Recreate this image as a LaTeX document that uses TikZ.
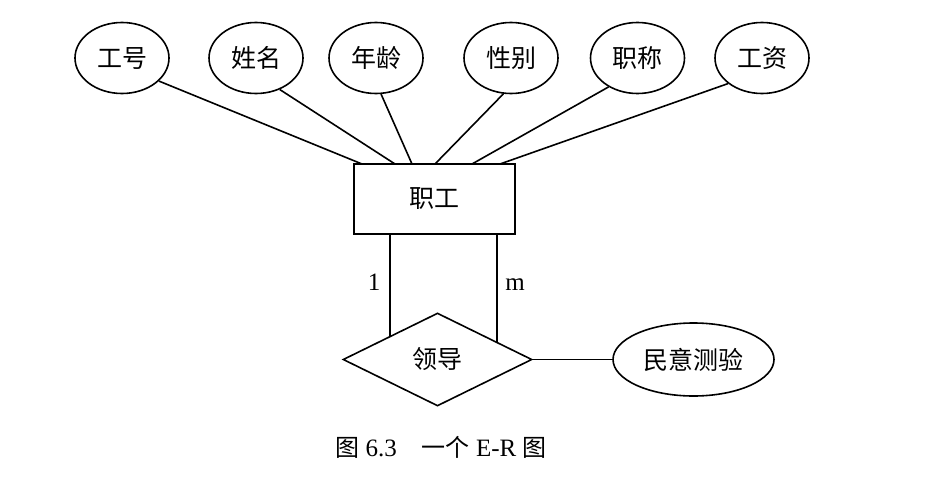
\documentclass[tikz,border=0pt]{standalone}
\usepackage{fontspec}
\setmainfont{Liberation Serif}
\newfontfamily\cjk{Noto Sans CJK SC}
\usetikzlibrary{shapes.geometric}
\tikzset{
  ln/.style={line width=1.6pt, black},
  attr/.style={ellipse, draw, ln, minimum width=94pt, minimum height=71pt, inner sep=0pt, font=\cjk\fontsize{25}{25}\selectfont},
  ent/.style={rectangle, draw, ln, minimum width=161pt, minimum height=70pt, inner sep=0pt, font=\cjk\fontsize{25}{25}\selectfont},
  rel/.style={diamond, draw, ln, aspect=2.03, minimum width=189pt, minimum height=93pt, inner sep=0pt, font=\cjk\fontsize{25}{25}\selectfont},
  card/.style={font=\fontsize{25}{25}\selectfont, inner sep=0pt}
}
\begin{document}
\begin{tikzpicture}[x=1pt,y=-1pt]
\useasboundingbox[fill=white] (0,0) rectangle (939,485);
% attributes
\node[attr] (g1) at (122,58) {工号};
\node[attr] (g2) at (256,58) {姓名};
\node[attr] (g3) at (376,58) {年龄};
\node[attr] (g4) at (511,58) {性别};
\node[attr] (g5) at (637.5,58) {职称};
\node[attr] (g6) at (762,58) {工资};
% entity
\node[ent] (emp) at (434.5,199) {职工};
% relationship
\node[rel] (lead) at (437.5,359.5) {领导};
\node[attr, minimum width=161pt, minimum height=73pt] (poll) at (693.5,359.5) {民意测验};
% attachment points on entity top
\coordinate (t1) at (362,164);
\coordinate (t2) at (395,164);
\coordinate (t3) at (412,164);
\coordinate (t4) at (435,164);
\coordinate (t5) at (472,164);
\coordinate (t6) at (500,164);
\draw[ln] (g1.-32) -- (t1);
\draw[ln] (g2.-53) -- (t2);
\draw[ln] (g3.-82) -- (t3);
\draw[ln] (g4.-102) -- (t4);
\draw[ln] (g5.-135) -- (t5);
\draw[ln] (g6.-143) -- (t6);
% links entity - relationship
\coordinate (a1) at (390,336.4);
\coordinate (a2) at (497,342.3);
\draw[ln] (emp.south -| a1) -- (a1);
\draw[ln] (emp.south -| a2) -- (a2);
\node[card] (c1) at (374,282) {1};
\node[card] (c2) at (515,285) {m};
% relationship - attribute
\draw[ln] (lead.east) -- (poll.west);
% caption
\node[inner sep=0pt, font=\fontsize{25}{25}\selectfont] (cap) at (441,447) {{\cjk\fontsize{24}{24}\selectfont 图} 6.3\hspace{1em}{\cjk\fontsize{24}{24}\selectfont 一个} E-R {\cjk\fontsize{24}{24}\selectfont 图}};
\end{tikzpicture}
\end{document}
